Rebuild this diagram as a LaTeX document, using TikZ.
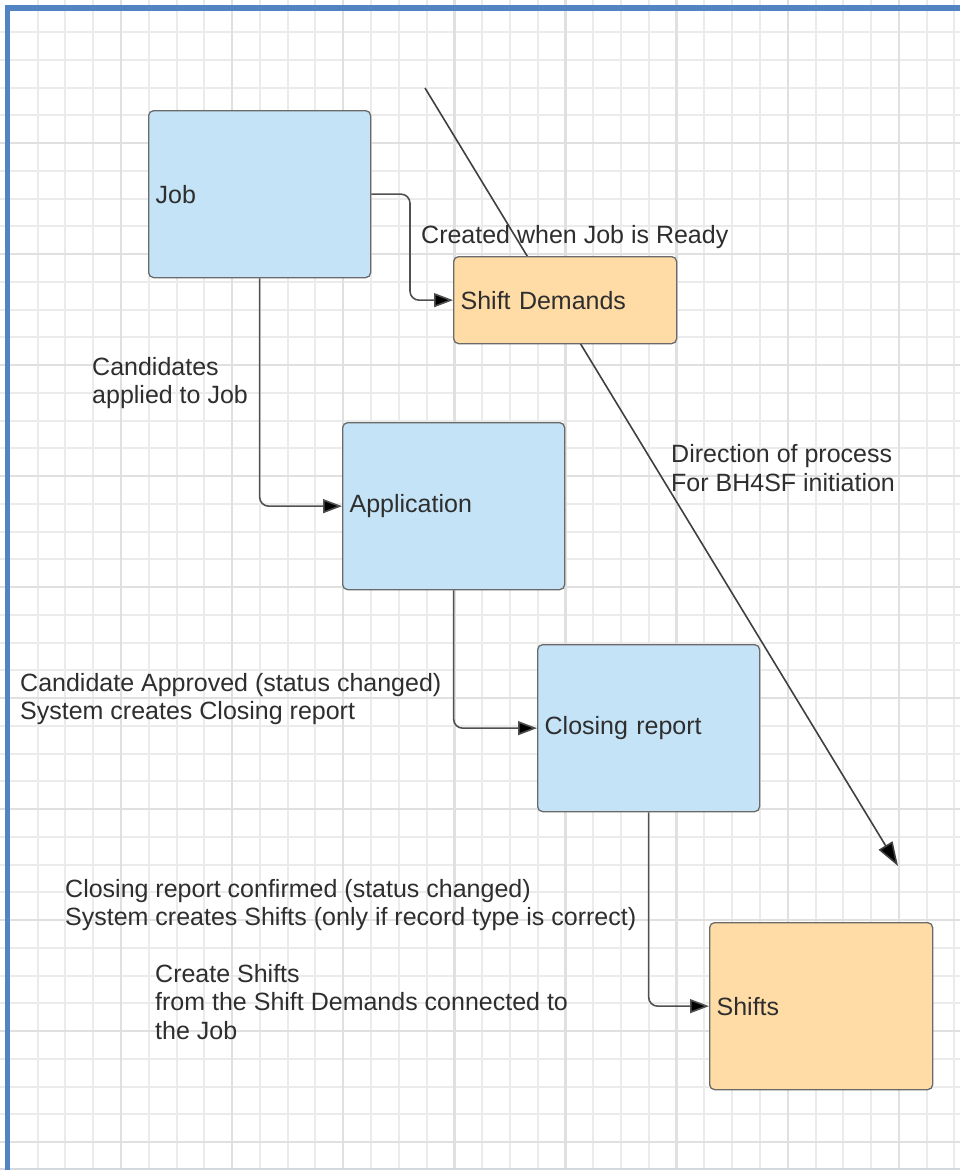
\documentclass[tikz,border=0pt]{standalone}
\usepackage{fontspec}
\setmainfont{Liberation Sans}
\usetikzlibrary{arrows.meta}
\definecolor{gridminor}{HTML}{EBEBEB}
\definecolor{gridmajor}{HTML}{E0E0E0}
\definecolor{frameblue}{HTML}{5284C4}
\definecolor{bluefill}{HTML}{C4E3F6}
\definecolor{orangefill}{HTML}{FFDCA6}
\definecolor{boxline}{HTML}{6A6A6A}
\definecolor{linec}{HTML}{505050}
\definecolor{diagc}{HTML}{404040}
\definecolor{textc}{HTML}{2E2E2E}
\definecolor{bottomline}{HTML}{D4D9DF}
\tikzset{
  gminor/.style={draw=gridminor, line width=2pt},
  gmajor/.style={draw=gridmajor, line width=2.4pt},
  box/.style={draw=boxline, line width=1.3pt, rounded corners=5pt, anchor=north west,
    inner xsep=7pt, inner ysep=0pt, align=left, text=textc,
    font=\fontsize{25}{28}\selectfont},
  bluebox/.style={box, fill=bluefill},
  orangebox/.style={box, fill=orangefill},
  lab/.style={anchor=west, align=left, inner sep=0pt, text=textc,
    font=\fontsize{25}{28.5}\selectfont},
  conn/.style={draw=linec, line width=1.6pt, rounded corners=9pt,
    -{Triangle[length=19pt,width=14pt,fill=black]}},
  diag/.style={draw=diagc, line width=1.6pt,
    -{Triangle[length=24pt,width=16pt,fill=black]}}
}
\begin{document}
\begin{tikzpicture}[x=1pt,y=-1pt]
\useasboundingbox (0,0) rectangle (960,1170);
\fill[white] (0,0) rectangle (960,1170);
% grid
\foreach \k in {1,...,34} {
  \pgfmathsetmacro\xx{9.9+27.78*\k}
  \draw[gminor] (\xx,0) -- (\xx,1170);
}
\foreach \k in {1,...,41} {
  \pgfmathsetmacro\yy{4.25+27.75*\k}
  \draw[gminor] (0,\yy) -- (960,\yy);
}
\foreach \k in {4,8,...,32} {
  \pgfmathsetmacro\xx{9.9+27.78*\k}
  \draw[gmajor] (\xx,0) -- (\xx,1170);
}
\foreach \k in {5,9,...,41} {
  \pgfmathsetmacro\yy{4.25+27.75*\k}
  \draw[gmajor] (0,\yy) -- (960,\yy);
}
% frame
\draw[bottomline, line width=2pt] (0,1168.5) -- (960,1168.5);
\draw[frameblue, line width=5pt] (7.5,5.5) -- (7.5,1170);
\draw[frameblue, line width=6pt] (5,8) -- (960,8);

% diagonal direction arrow (behind the boxes)
\coordinate (dstart) at (425,88);
\coordinate (dend) at (898,866);
\draw[diag] (dstart) -- (dend);

% boxes
\node[bluebox, text width=208pt, minimum height=167pt] (job) at (148,110) {Job};
\node[orangebox, text width=209pt, minimum height=87pt] (sd) at (453,256) {Shift Demands};
\node[bluebox, text width=208pt, minimum height=167pt] (app) at (342,422) {Application};
\node[bluebox, text width=208pt, minimum height=167pt] (close) at (537,644) {Closing report};
\node[orangebox, text width=209pt, minimum height=167pt] (shifts) at (709,922) {Shifts};

% connectors
\coordinate (bend1) at (410,194);
\draw[conn] (job.east) -- (job.east -| bend1) |- (sd.west);
\draw[conn] (job.south) |- (app.west);
\draw[conn] (app.south) |- (close.west);
\draw[conn] (close.south) |- (shifts.west);

% labels
\node[lab] (l1) at (421,237) {Created when Job is Ready};
\node[lab] (l2) at (92,383) {Candidates\\applied to Job};
\node[lab] (l3) at (671,468) {Direction of process\\For BH4SF initiation};
\node[lab] (l4) at (20,699) {Candidate Approved (status changed)\\System creates Closing report};
\node[lab] (l5) at (65,905) {Closing report confirmed (status changed)\\System creates Shifts (only if record type is correct)};
\node[lab] (l6) at (155,1002) {Create Shifts\\from the Shift Demands connected to\\the Job};
\end{tikzpicture}
\end{document}
